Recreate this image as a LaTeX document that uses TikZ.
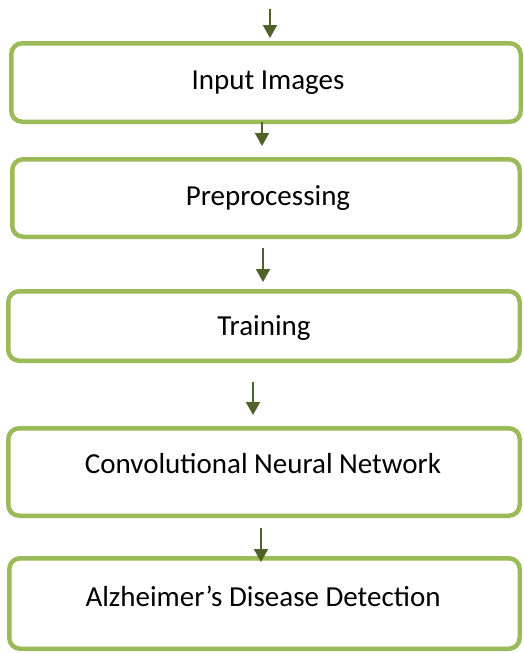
\documentclass[tikz,border=0pt]{standalone}
\usepackage{fontspec}
\setmainfont{Carlito}
\usetikzlibrary{arrows.meta}
\definecolor{boxgreen}{HTML}{9BBB59}
\definecolor{arrgreen}{HTML}{4F6228}
\begin{document}
\begin{tikzpicture}[x=1pt,y=-1pt,
  stagebox/.style={draw=boxgreen,line width=4.5pt,rounded corners=11pt,fill=white,inner sep=0pt,outer sep=0pt},
  stagetext/.style={anchor=base,font=\fontsize{29}{34}\selectfont,inner sep=0pt},
  flowarrow/.style={draw=arrgreen,line width=2pt,-{Triangle[width=14pt,length=13pt]}}]
\useasboundingbox (0,0) rectangle (524,653);
% boxes
\node[stagebox,minimum width=509.5pt,minimum height=78.5pt] (b1) at (266,82.5) {};
\node[stagebox,minimum width=507.5pt,minimum height=77.5pt] (b2) at (266,198) {};
\node[stagebox,minimum width=511.5pt,minimum height=69.5pt] (b3) at (264,326) {};
\node[stagebox,minimum width=511.5pt,minimum height=87.5pt] (b4) at (264,472) {};
\node[stagebox,minimum width=510.5pt,minimum height=90.5pt] (b5) at (264.5,603.5) {};
% texts
\node[stagetext] (t1) at (268,89) {Input Images};
\node[stagetext] (t2) at (268,205) {Preprocessing};
\node[stagetext] (t3) at (264,335) {Training};
\node[stagetext] (t4) at (263,473) {Convolutional Neural Network};
\node[stagetext] (t5) at (263,606) {Alzheimer’s Disease Detection};
% arrow end points
\coordinate (a0s) at (270,9);
\coordinate (a0e) at (270,38);
\coordinate (a1e) at (262,146);
\coordinate (a2s) at (263,248);
\coordinate (a2e) at (263,282);
\coordinate (a3s) at (253,382);
\coordinate (a3e) at (253,415);
\coordinate (a4s) at (261,528);
\coordinate (a4e) at (261,562);
% arrows
\draw[flowarrow] (a0s) -- (a0e);
\draw[flowarrow] (b1.south -| a1e) -- (a1e);
\draw[flowarrow] (a2s) -- (a2e);
\draw[flowarrow] (a3s) -- (a3e);
\draw[flowarrow] (a4s) -- (a4e);
\end{tikzpicture}
\end{document}
